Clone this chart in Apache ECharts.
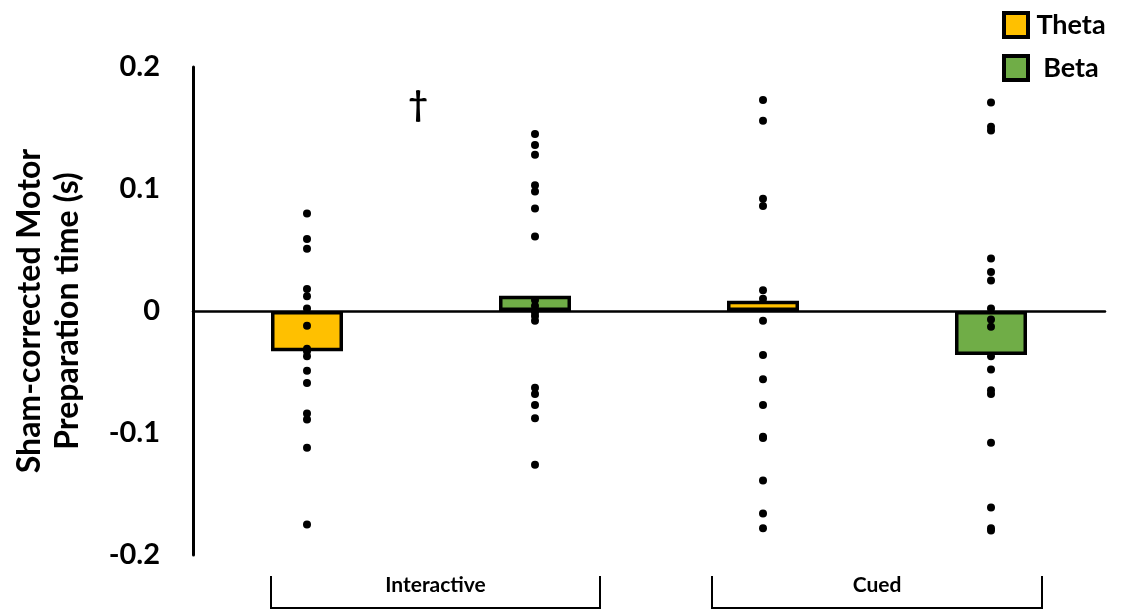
<!DOCTYPE html>
<html>
<head>
<meta charset="utf-8">
<script src="https://cdn.jsdelivr.net/npm/echarts@6/dist/echarts.min.js"></script>
<style>html,body{margin:0;padding:0;background:#fff;}#c{width:1122px;height:610px;}</style>
</head>
<body>
<div id="c"></div>
<script>
// Positions: Interactive-Theta, Interactive-Beta, Cued-Theta, Cued-Beta
var slots = ['Interactive Theta', 'Interactive Beta', 'Cued Theta', 'Cued Beta'];
var groups = ['Interactive', 'Cued'];
var thetaMeans = [-0.033, null, 0.0085, null];
var betaMeans = [null, 0.0125, null, -0.036];
var interactiveTheta = [0.080, 0.059, 0.051, 0.018, 0.012, 0.002, -0.012, -0.031, -0.033, -0.037, -0.049, -0.059, -0.084, -0.089, -0.112, -0.175];
var interactiveBeta = [0.145, 0.136, 0.128, 0.103, 0.098, 0.084, 0.061, 0.009, 0.004, -0.001, -0.004, -0.008, -0.063, -0.068, -0.077, -0.088, -0.126];
var cuedTheta = [0.173, 0.156, 0.092, 0.086, 0.017, 0.010, -0.008, -0.036, -0.056, -0.077, -0.103, -0.104, -0.139, -0.166, -0.178];
var cuedBeta = [0.171, 0.151, 0.148, 0.043, 0.032, 0.025, 0.002, -0.007, -0.013, -0.037, -0.048, -0.065, -0.068, -0.108, -0.161, -0.178, -0.180];
var yTicks = {min: -0.2, max: 0.2, interval: 0.1};
var daggerValue = 0.169;

var FONT = 'Lato';
var dots = [];
[interactiveTheta, interactiveBeta, cuedTheta, cuedBeta].forEach(function (arr, i) {
  arr.forEach(function (v) { dots.push([i, v]); });
});

var chart = echarts.init(document.getElementById('c'));
chart.setOption({
  animation: false,
  backgroundColor: '#fff',
  textStyle: {fontFamily: FONT},
  grid: {left: 193, right: 17, top: 67, bottom: 55},
  legend: {
    orient: 'vertical', left: 1002, top: 11, padding: 0,
    itemWidth: 24, itemHeight: 24, itemGap: 15,
    icon: 'rect',
    data: ['Theta', 'Beta'],
    itemStyle: {borderColor: '#000', borderWidth: 4},
    formatter: function (n) { return '{c|' + n + '}'; },
    textStyle: {
      fontFamily: FONT, fontWeight: 'bold', fontSize: 27, color: '#000',
      rich: {c: {fontFamily: FONT, fontWeight: 'bold', fontSize: 27, color: '#000', width: 76, align: 'center', lineHeight: 28}}
    }
  },
  xAxis: {
    type: 'category', data: slots,
    axisLine: {onZero: true, lineStyle: {color: '#000', width: 2.5}},
    axisTick: {show: false}, axisLabel: {show: false}, splitLine: {show: false}
  },
  yAxis: {
    type: 'value', min: yTicks.min, max: yTicks.max, interval: yTicks.interval,
    name: 'Sham-corrected Motor\nPreparation time (s)',
    nameLocation: 'middle', nameGap: 106,
    nameTextStyle: {fontFamily: FONT, fontWeight: 'bold', fontSize: 32, color: '#000', lineHeight: 38},
    axisLine: {show: true, lineStyle: {color: '#000', width: 3}},
    axisTick: {show: false},
    splitLine: {show: false},
    axisLabel: {fontFamily: FONT, fontWeight: 'bold', fontSize: 29, color: '#000', margin: 33}
  },
  series: [
    {name: 'Theta', type: 'bar', data: thetaMeans, barWidth: 72, barGap: '-100%',
     itemStyle: {color: '#FFC000', borderColor: '#000', borderWidth: 3.5}, z: 2},
    {name: 'Beta', type: 'bar', data: betaMeans, barWidth: 72, barGap: '-100%',
     itemStyle: {color: '#70AD47', borderColor: '#000', borderWidth: 3.5}, z: 2},
    {name: 'points', type: 'scatter', data: dots, symbolSize: 8,
     itemStyle: {color: '#000', opacity: 1}, z: 5}
  ]
});

// Decorations: group brackets and significance dagger
var p0 = chart.convertToPixel({xAxisIndex: 0}, 0);
var p1 = chart.convertToPixel({xAxisIndex: 0}, 1);
var p2 = chart.convertToPixel({xAxisIndex: 0}, 2);
var p3 = chart.convertToPixel({xAxisIndex: 0}, 3);
var dy = chart.convertToPixel({yAxisIndex: 0}, daggerValue);
var brackets = [[p0 - 36, p1 + 65, groups[0]], [p2 - 51, p3 + 51, groups[1]]];
var g = [];
brackets.forEach(function (b) {
  g.push({type: 'polyline', shape: {points: [[b[0], 576], [b[0], 608], [b[1], 608], [b[1], 576]]},
          style: {stroke: '#000', lineWidth: 2, fill: null}});
  g.push({type: 'text', x: (b[0] + b[1]) / 2, y: 585,
          style: {text: b[2], font: 'bold 21px ' + FONT, fill: '#000', textAlign: 'center', textVerticalAlign: 'middle'}});
});
g.push({type: 'text', x: (p0 + p1) / 2 - 3, y: dy,
        style: {text: '\u2020', font: 'bold 34px ' + FONT, fill: '#000', textAlign: 'center', textVerticalAlign: 'middle'}});
chart.setOption({graphic: g});
</script>
</body>
</html>
